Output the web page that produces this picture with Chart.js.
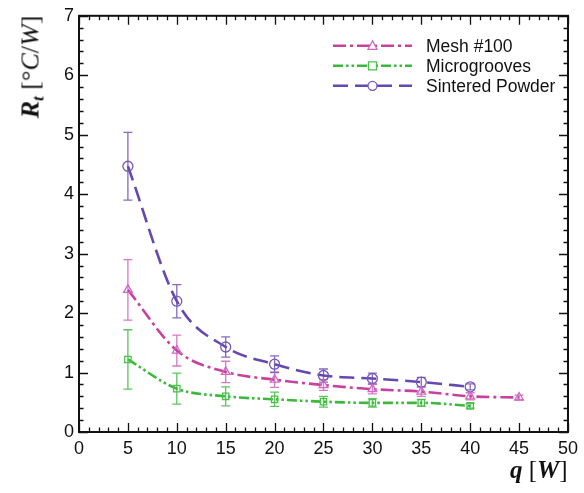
<!DOCTYPE html>
<html>
<head>
<meta charset="utf-8">
<script src="https://cdn.jsdelivr.net/npm/chart.js@4.4.1/dist/chart.umd.min.js"></script>
<style>
  html, body { margin: 0; padding: 0; background: #fff; }
  #wrap { position: relative; width: 584px; height: 493px; }
  #chart { position: absolute; left: 0; top: 0; }
  .ttl { position: absolute; font-family: "Liberation Serif", "DejaVu Serif", serif; color: #111; white-space: nowrap; line-height: 1; }
  .ttl i { font-style: italic; }
  #ytitle { font-size: 26px; left: 32px; top: 67px; transform: translate(-50%, -50%) rotate(-90deg); }
  #xtitle { font-size: 25px; left: 510px; top: 457px; }
  sub { font-size: 17px; vertical-align: -5px; line-height: 1; }
</style>
</head>
<body>
<div id="wrap">
  <canvas id="chart" width="584" height="493"></canvas>
  <div class="ttl" id="ytitle"><b><i>R</i></b><sub><b><i>t</i></b></sub> [°<i>C</i>/<i>W</i>]</div>
  <div class="ttl" id="xtitle"><b><i>q</i></b> [<b><i>W</i></b>]</div>
</div>
<script>
// heat load q [W]
const qValues = [5, 10, 15, 20, 25, 30, 35, 40, 45];

// thermal resistance R_t [°C/W] and error half-widths
const meshR = [2.39, 1.37, 1.01, 0.88, 0.79, 0.72, 0.68, 0.60, 0.58];
const meshErr = [0.51, 0.26, 0.18, 0.13, 0.09, 0.08, 0.08, 0.06, 0.04];
const microR = [1.22, 0.73, 0.60, 0.55, 0.51, 0.49, 0.49, 0.44];
const microErr = [0.50, 0.26, 0.16, 0.12, 0.09, 0.07, 0.06, 0.04];
const sinterR = [4.47, 2.20, 1.43, 1.14, 0.95, 0.90, 0.84, 0.76];
const sinterErr = [0.57, 0.28, 0.17, 0.14, 0.11, 0.09, 0.08, 0.05];

const seriesNames = ["Mesh #100", "Microgrooves", "Sintered Powder"];
const xTicks = [0, 5, 10, 15, 20, 25, 30, 35, 40, 45, 50];
const yTicks = [0, 1, 2, 3, 4, 5, 6, 7];

function pts(ys) { return ys.map((y, i) => ({x: qValues[i], y: y})); }

function mkSet(label, ys, errs, line, mark, errCol, style, dash) {
    return {
        label: label, data: pts(ys), errs: errs, errColor: errCol,
        borderColor: line, borderWidth: 2.6, borderDash: dash,
        pointStyle: style, pointRadius: style === 'rect' ? 4.5 : 5,
        pointBorderColor: mark, pointBackgroundColor: 'rgba(0,0,0,0)', pointBorderWidth: 1.3,
        cubicInterpolationMode: 'monotone', fill: false
    };
}

// error bars, drawn through the chart scales
const errorBars = {
    id: 'errorBars',
    beforeDatasetsDraw(chart) {
        const c = chart.ctx, xs = chart.scales.x, ys = chart.scales.y;
        c.save();
        chart.data.datasets.forEach(ds => {
            c.strokeStyle = ds.errColor; c.lineWidth = 1.3;
            ds.data.forEach((p, i) => {
                const px = xs.getPixelForValue(p.x);
                const t = ys.getPixelForValue(p.y + ds.errs[i]);
                const b = ys.getPixelForValue(p.y - ds.errs[i]);
                c.beginPath();
                c.moveTo(px, t); c.lineTo(px, b);
                c.moveTo(px - 4.5, t); c.lineTo(px + 4.5, t);
                c.moveTo(px - 4.5, b); c.lineTo(px + 4.5, b);
                c.stroke();
            });
        });
        c.restore();
    }
};

// frame with inward ticks on all four sides, plus the legend
const frame = {
    id: 'frame',
    afterDraw(chart) {
        const c = chart.ctx, a = chart.chartArea, xs = chart.scales.x, ys = chart.scales.y;
        c.save();
        c.strokeStyle = '#111';
        c.lineWidth = 1.3;
        c.beginPath();
        for (let v = 0; v <= 50; v += 1) {
            const px = Math.round(xs.getPixelForValue(v)) + 0.5;
            const L = v % 5 === 0 ? 9 : 4.5;
            c.moveTo(px, a.bottom); c.lineTo(px, a.bottom - L);
            c.moveTo(px, a.top); c.lineTo(px, a.top + L);
        }
        for (let k = 0; k <= 35; k++) {
            const py = Math.round(ys.getPixelForValue(k * 0.2)) + 0.5;
            const L = k % 5 === 0 ? 9 : 4.5;
            c.moveTo(a.left, py); c.lineTo(a.left + L, py);
            c.moveTo(a.right, py); c.lineTo(a.right - L, py);
        }
        c.stroke();
        c.lineWidth = 2;
        c.strokeRect(a.left, a.top, a.right - a.left, a.bottom - a.top);

        // legend
        const x0 = a.left + 254, x1 = a.left + 333, tx = a.left + 347;
        chart.data.datasets.forEach((ds, i) => {
            const y = a.top + 30 + i * 20;
            c.setLineDash(ds.borderDash);
            c.strokeStyle = ds.borderColor; c.lineWidth = 2.4;
            c.beginPath(); c.moveTo(x0, y); c.lineTo(x1, y); c.stroke();
            c.setLineDash([]);
            c.lineWidth = 1.3; c.strokeStyle = ds.pointBorderColor;
            const mx = (x0 + x1) / 2;
            c.fillStyle = '#fff';
            c.beginPath();
            if (ds.pointStyle === 'circle') c.arc(mx, y, 4.5, 0, Math.PI * 2);
            else if (ds.pointStyle === 'rect') c.rect(mx - 4, y - 4, 8, 8);
            else { c.moveTo(mx, y - 5); c.lineTo(mx + 4.5, y + 3.5); c.lineTo(mx - 4.5, y + 3.5); c.closePath(); }
            c.fill(); c.stroke();
            c.fillStyle = '#111';
            c.font = '17.5px "Liberation Sans", Arial, sans-serif';
            c.textBaseline = 'middle';
            c.fillText(ds.label, tx, y + 1);
        });
        c.restore();
    }
};

new Chart(document.getElementById('chart'), {
    type: 'line',
    data: {
        datasets: [
            mkSet(seriesNames[0], meshR, meshErr, '#c8419f', '#d068c0', '#d57ac6', 'triangle', [13, 4, 3, 4]),
            mkSet(seriesNames[1], microR, microErr, '#3cb93c', '#4cc04c', '#5cc65c', 'rect', [10, 3, 2.5, 3, 2.5, 3]),
            mkSet(seriesNames[2], sinterR, sinterErr, '#6549b0', '#7558b8', '#8669c0', 'circle', [15, 7])
        ]
    },
    options: {
        responsive: false,
        animation: false,
        layout: { padding: { left: 0, top: 14, right: 15, bottom: 0 } },
        plugins: { legend: { display: false }, tooltip: { enabled: false } },
        scales: {
            x: {
                type: 'linear', min: 0, max: 50,
                afterFit(s) { s.height = 61; },
                afterBuildTicks(s) { s.ticks = xTicks.map(v => ({value: v})); },
                grid: { display: false, drawTicks: false },
                border: { display: false },
                ticks: { padding: 6, color: '#111', font: { family: '"Liberation Sans", Arial, sans-serif', size: 18 } }
            },
            y: {
                type: 'linear', min: 0, max: 7,
                afterFit(s) { s.width = 79; },
                afterBuildTicks(s) { s.ticks = yTicks.map(v => ({value: v})); },
                grid: { display: false, drawTicks: false },
                border: { display: false },
                ticks: { padding: 5, color: '#111', font: { family: '"Liberation Sans", Arial, sans-serif', size: 18 } }
            }
        }
    },
    plugins: [errorBars, frame]
});
</script>
</body>
</html>
